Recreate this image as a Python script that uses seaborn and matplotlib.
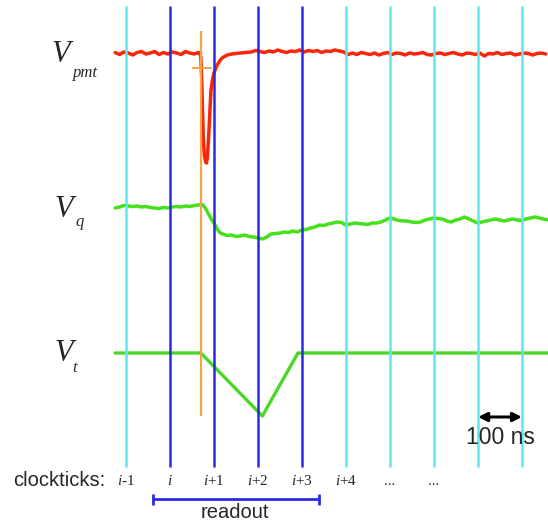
import matplotlib
matplotlib.use("Agg")
import matplotlib.pyplot as plt
import seaborn as sns
import numpy as np

# clock ticks (ns, tick i at 0) and their labels
clock_t = [-100, 0, 100, 200, 300, 400, 500, 600, 700, 800]
clock_lbl = [r"$i$-1", r"$i$", r"$i$+1", r"$i$+2", r"$i$+3", r"$i$+4", "...", "...", "", ""]
readout_ticks = [0, 100, 200, 300]  # blue ones

# PMT pulse (relative amplitude, up = positive)
pmt_t = (list(range(-125, 66, 10))
         + [68, 70, 72, 74, 76, 78, 81, 83, 85, 87, 89, 91, 93, 96, 100, 105, 110,
            116, 122, 130, 140, 150, 160, 172]
         + list(range(185, 856, 10)))
pmt_v = ([0.5, -1.5, 1, 0, -2, 0.5, 1.5, -1, 0, 1.5, -1.5, 0.5, -1, 1, 0, -1.5, 1.5, 0, -1, 0.5]
         + [0, -4, -25, -60, -88, -102, -109, -110, -104, -90, -74, -55, -38, -28, -20, -14, -10,
            -6, -4, -2, -1, -0.5, 0, 0.5]
         + [1, 2.5, 1.5, 0.5, 2, 1, 3, 1.5, 0.5, 2, 1.5, 3, 1, 2.5, 1.5, 2.5, 0.5, 2, 1.5, 3, 2, 1]
         + [-1.5, 0, -1.5, 0.5, -0.5, -1.5, 0, -2, -0.5, 0.5, -1.5, 0, -0.5, -2, 0, -1, -0.5, 0.5,
            -1.5, -2, -0.5, 0, -1.5, -0.5, 0.5, -1, -2, 0, -0.5, -1.5, 0, -3, -0.5, -1, 0.5, -1.5,
            -0.5, 0, -2, -1, 0, -0.5, -2, -0.5, 0, -1])

# integrated charge
q_t = (list(range(-125, 66, 10))
       + [70, 75, 80, 85, 90, 95, 100, 105, 110, 115]
       + list(range(120, 861, 10)))
q_v = ([-1, 0, 1.5, 1, 0.5, 1, 0, 0.5, -0.5, -1, -1.5, -0.5, -1, 0, 0.5, 0, 1, 0.5, 1.5, 2]
       + [2.5, 2, -1, -5, -9, -13, -16, -20, -24, -26]
       + [-27, -28.5, -28, -29.5, -29, -28, -29.5, -30, -31, -32, -30, -27, -26.5, -26, -25,
          -25.5, -24, -25, -23, -22.5, -21, -20, -18, -18.5, -17, -16, -15, -15.5, -18, -17,
          -16, -16.5, -17, -17.5, -16, -16, -15, -13, -11, -12, -13.5, -14, -14, -15, -15.5,
          -15, -13, -12, -11, -11.5, -12, -14, -15, -13, -12, -10, -12, -14, -16, -15, -14,
          -13, -12, -13, -14, -13, -12, -13, -13.5, -12, -11, -10, -11, -12, -13])

# time-over-threshold ramp
t_t = [-125, 70, 210, 291, 860]
t_v = [0, 0, -63, 0, 0]

off_pmt, off_q, off_t = 474, 320, 174

sns.set_theme(style="white")
plt.rcParams["mathtext.fontset"] = "custom"
plt.rcParams["mathtext.it"] = "Liberation Serif:italic"
plt.rcParams["mathtext.rm"] = "Liberation Serif"

fig = plt.figure(figsize=(5.48, 5.27), dpi=100)
ax = fig.add_axes([0, 0, 1, 1])

sns.lineplot(x=pmt_t, y=np.array(pmt_v) + off_pmt, ax=ax, color="#f8260a",
             linewidth=2.5, estimator=None, sort=False)
sns.lineplot(x=q_t, y=np.array(q_v) + off_q, ax=ax, color="#46e01c",
             linewidth=2.5, estimator=None, sort=False)
sns.lineplot(x=t_t, y=np.array(t_v) + off_t, ax=ax, color="#4cd628",
             linewidth=2.4, estimator=None, sort=False)

for t in clock_t:
    c = "#2a2ae6" if t in readout_ticks else "#5fe6f0"
    ax.vlines(t, 60, 521, colors=c, linewidth=1.8, zorder=3)

# trigger marker
ax.vlines(71.5, 111, 496, colors="#f5a548", linewidth=1.6, zorder=4)
ax.hlines(459, 50, 95, colors="#f5a548", linewidth=1.4, zorder=4)

serif = "Liberation Serif"
ax.text(-270, 465, "V", fontsize=22, fontstyle="italic", family=serif)
ax.text(-222, 450, "pmt", fontsize=12, fontstyle="italic", family=serif)
ax.text(-264, 310, "V", fontsize=22, fontstyle="italic", family=serif)
ax.text(-215, 301, "q", fontsize=12, fontstyle="italic", family=serif)
ax.text(-264, 166, "V", fontsize=22, fontstyle="italic", family=serif)
ax.text(-222, 155, "t", fontsize=12, fontstyle="italic", family=serif)

ax.text(-357, 47, "clockticks:", fontsize=14.5, family="Liberation Sans", va="center")
for t, lbl in zip(clock_t, clock_lbl):
    ax.text(t, 42, lbl, fontsize=11, family=serif, ha="center", va="baseline")

# readout bracket
ax.plot([-39, 339], [28, 28], color="#2a2ae6", lw=2)
ax.vlines([-39, 339], 22.5, 33, colors="#2a2ae6", lw=2)
ax.text(148, 14, "readout", fontsize=14.5, family="Liberation Sans", ha="center", va="center")

# 100 ns scale
ax.annotate("", xy=(801, 110), xytext=(701, 110),
            arrowprops=dict(arrowstyle="<|-|>", lw=2.2, color="black", mutation_scale=13,
                            shrinkA=0, shrinkB=0))
ax.text(751, 89, "100 ns", fontsize=16.5, family="Liberation Sans", ha="center", va="center")

ax.set_xlim(-387, 860.1)
ax.set_ylim(0, 527)
ax.axis("off")
fig.savefig("out.png", dpi=100)
